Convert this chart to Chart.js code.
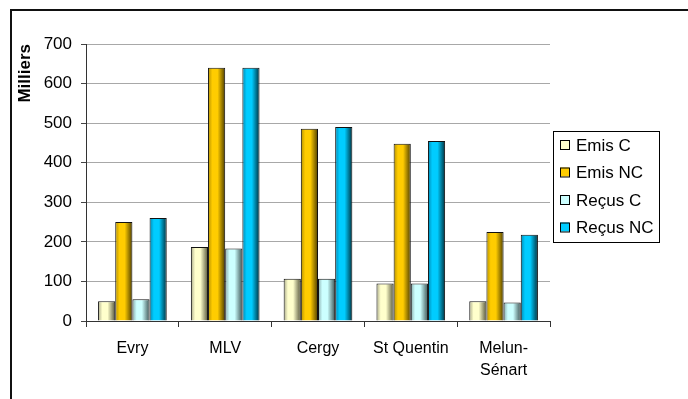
<!DOCTYPE html>
<html>
<head>
<meta charset="utf-8">
<script src="https://cdn.jsdelivr.net/npm/chart.js@4/dist/chart.umd.min.js"></script>
<style>
  html, body { margin: 0; padding: 0; background: #fff; overflow: hidden; }
  #wrap { width: 688px; height: 399px; position: relative; overflow: hidden; }
  canvas { display: block; }
</style>
</head>
<body>
<div id="wrap"><canvas id="c" width="688" height="399"></canvas></div>
<script>
// ---- data ----
const categories = [["Evry"], ["MLV"], ["Cergy"], ["St Quentin"], ["Melun-", "Sénart"]];
const seriesNames = ["Emis C", "Emis NC", "Reçus C", "Reçus NC"];
const emisC   = [50, 187, 107, 95, 50];
const emisNC  = [250, 640, 486, 448, 225];
const recusC  = [55, 183, 107, 95, 47];
const recusNC = [260, 640, 490, 455, 218];
const yTicks = [0, 100, 200, 300, 400, 500, 600, 700];
const yTitle = "Milliers";

// ---- styles ----
const baseColors = ["#FFFFCC", "#FFCC00", "#CCFFFF", "#00CCFF"];
const gradStops = [
  ["#a8a888", "#FFFFCC", "#FFFFCC", "#55553a"],
  ["#b38f00", "#FFCC00", "#FFCC00", "#4d3d00"],
  ["#88aaaa", "#CCFFFF", "#CCFFFF", "#3d5555"],
  ["#0088b3", "#00CCFF", "#00CCFF", "#00303d"]
];
const CAT_PCT = 0.74;
const FONT = "'Liberation Sans', Arial, sans-serif";

function barFill(ctx) {
  const chart = ctx.chart;
  const di = ctx.datasetIndex;
  const xs = chart.scales.x;
  if (ctx.type !== 'data' || !xs || !chart.chartArea) return baseColors[di];
  const n = chart.data.datasets.length;
  const catW = (xs.right - xs.left) / chart.data.labels.length;
  const bw = catW * CAT_PCT / n;
  const cx = xs.getPixelForValue(ctx.dataIndex) + (di - (n - 1) / 2) * bw;
  const x0 = cx - bw / 2, x1 = cx + bw / 2;
  if (!isFinite(x0) || !isFinite(x1)) return baseColors[di];
  const g = chart.ctx.createLinearGradient(x0, 0, x1, 0);
  const s = gradStops[di];
  g.addColorStop(0, s[0]);
  g.addColorStop(0.25, s[1]);
  g.addColorStop(0.55, s[2]);
  g.addColorStop(1, s[3]);
  return g;
}

const seriesValues = [emisC, emisNC, recusC, recusNC];
const datasets = seriesNames.map((name, i) => ({
  label: name,
  data: seriesValues[i],
  backgroundColor: barFill,
  borderColor: "#111",
  borderWidth: 1,
  borderSkipped: 'bottom',
  categoryPercentage: CAT_PCT,
  barPercentage: 1.0
}));

const framePlugin = {
  id: 'frame',
  afterDraw(chart) {
    const c = chart.ctx;
    c.save();
    c.fillStyle = "#111";
    c.fillRect(10, 9, 2, 390);   // left edge of outer frame
    c.fillRect(10, 9, 678, 2);   // top edge of outer frame
    c.restore();
  }
};

const legendPlugin = {
  id: 'boxLegend',
  afterDraw(chart) {
    const c = chart.ctx;
    const bx = 553, by = 131, bw = 106, bh = 111;
    c.save();
    c.fillStyle = "#fff";
    c.fillRect(bx, by, bw, bh);
    c.strokeStyle = "#000";
    c.lineWidth = 1;
    c.strokeRect(bx + 0.5, by + 0.5, bw, bh);
    c.font = "17px " + FONT;
    c.textBaseline = "middle";
    chart.data.datasets.forEach((ds, i) => {
      const y = 145 + i * 27.5;
      c.fillStyle = baseColors[i];
      c.fillRect(560, y - 5, 9, 9);
      c.strokeStyle = "#000";
      c.strokeRect(560.5, y - 4.5, 9, 9);
      c.fillStyle = "#000";
      c.fillText(ds.label, 576, y + 1);
    });
    c.restore();
  }
};

new Chart(document.getElementById('c'), {
  type: 'bar',
  data: { labels: categories, datasets },
  options: {
    responsive: false,
    animation: false,
    devicePixelRatio: 1,
    layout: { padding: { top: 44, right: 138, left: 0, bottom: 0 } },
    plugins: {
      legend: { display: false },
      tooltip: { enabled: false }
    },
    scales: {
      x: {
        grid: { display: true, drawOnChartArea: false, drawTicks: true, tickLength: 6, tickColor: "#333", offset: true },
        border: { display: true, color: "#333", width: 1 },
        ticks: { color: "#000", font: { size: 16, family: FONT, lineHeight: 1.4 }, padding: 10, maxRotation: 0, autoSkip: false },
        afterFit(scale) { scale.height = 78; }
      },
      y: {
        min: 0, max: 700,
        afterBuildTicks(scale) { scale.ticks = yTicks.map(v => ({ value: v })); },
        grid: { color: "#a8a8a8", tickColor: "#444", tickLength: 5, drawTicks: true },
        border: { display: true, color: "#333", width: 1 },
        ticks: { color: "#000", font: { size: 17, family: FONT }, padding: 9 },
        title: { display: true, text: yTitle, align: 'end', color: "#000",
                 font: { size: 17, weight: 'bold', family: FONT }, padding: { top: 15, bottom: 0 } },
        afterFit(scale) { scale.width = 86; }
      }
    }
  },
  plugins: [framePlugin, legendPlugin]
});
</script>
</body>
</html>
